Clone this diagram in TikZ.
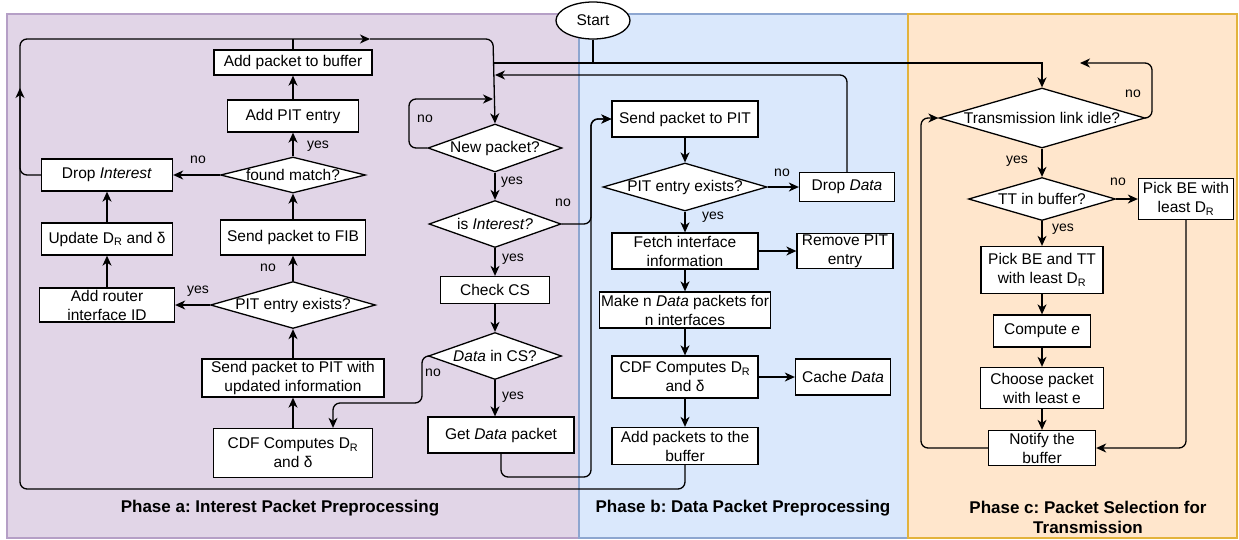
\documentclass[tikz,border=0pt]{standalone}
\usepackage{fontspec}
\setmainfont{Liberation Sans}
\usetikzlibrary{shapes.geometric,arrows.meta}
\frenchspacing

\definecolor{pafill}{HTML}{E1D5E7}
\definecolor{padraw}{HTML}{B59FC6}
\definecolor{pbfill}{HTML}{DAE8FC}
\definecolor{pbdraw}{HTML}{8DA6D0}
\definecolor{pcfill}{HTML}{FFE6CC}
\definecolor{pcdraw}{HTML}{E3B33C}

\begin{document}
\begin{tikzpicture}[x=1pt,y=-1pt,
        font=\fontsize{15.5}{19}\selectfont,
        box/.style={draw,fill=white,line width=1.3pt,align=center,inner sep=0pt},
        dia/.style={draw,fill=white,diamond,line width=1.3pt,inner sep=0pt},
        line/.style={line width=1.3pt,rounded corners=7pt},
        arr/.style={line,-{Stealth[length=10pt,width=9pt,inset=3pt]}},
        lab/.style={font=\fontsize{14}{16}\selectfont},
        phase/.style={font=\fontsize{17}{20}\selectfont\bfseries,align=center}]
    \useasboundingbox (0,0) rectangle (1239,539);

    % panels
    \draw[draw=padraw,fill=pafill,line width=1.2pt] (7,14) rectangle (579,538);
    \draw[draw=pbdraw,fill=pbfill,line width=1.2pt] (579,14) rectangle (908,538);
    \draw[draw=pcdraw,fill=pcfill,line width=1.2pt] (908,14) rectangle (1237,538);

    \node[phase] (phasea) at (280,508) {Phase a: Interest Packet Preprocessing};
    \node[phase] (phaseb) at (743,508) {Phase b: Data Packet Preprocessing};
    \node[phase] (phasec) at (1088,517) {Phase c: Packet Selection for\\Transmission};

    \node[draw,ellipse,fill=white,line width=1.3pt,minimum width=74,minimum height=37,inner sep=0pt] (start) at (593,20.5) {Start};

    % phase a
    \node[box,minimum width=158,minimum height=25] (addbuf) at (293,62.5) {Add packet to buffer};
    \node[box,minimum width=131,minimum height=32] (addpit) at (293,116) {Add PIT entry};
    \node[dia,minimum width=145,minimum height=36] (found) at (293,175) {\makebox[0pt]{found match?}};
    \node[box,minimum width=131,minimum height=32] (dropint) at (107,175) {Drop \textit{Interest}};
    \node[box,minimum width=131,minimum height=32] (update) at (107,239) {Update D\textsubscript{R} and δ};
    \node[box,minimum width=145,minimum height=35] (sendfib) at (293,237.5) {Send packet to FIB};
    \node[box,minimum width=135,minimum height=34] (router) at (107,305) {Add router\\interface ID};
    \node[dia,minimum width=165,minimum height=47] (pita) at (293,305) {\makebox[0pt]{PIT entry exists?}};
    \node[box,minimum width=182,minimum height=38] (sendpita) at (293,378) {Send packet to PIT with\\updated information};
    \node[box,minimum width=159,minimum height=49] (cdfa) at (293,453) {CDF Computes D\textsubscript{R}\\and δ};

    \node[dia,minimum width=134,minimum height=48] (newpkt) at (495,148) {\makebox[0pt]{New packet?}};
    \node[dia,minimum width=132,minimum height=47] (isint) at (495,224) {\makebox[0pt]{is \textit{Interest?}}};
    \node[box,minimum width=109,minimum height=27] (checkcs) at (495,290) {Check CS};
    \node[dia,minimum width=133,minimum height=47] (datacs) at (495,356) {\makebox[0pt]{\textit{Data} in CS?}};
    \node[box,minimum width=146,minimum height=36] (getdata) at (501,435) {Get \textit{Data} packet};

    % phase b
    \node[box,minimum width=146,minimum height=36] (sendpitb) at (685,119) {Send packet to PIT};
    \node[dia,minimum width=164,minimum height=48] (pitb) at (685,187) {\makebox[0pt]{PIT entry exists?}};
    \node[box,minimum width=95,minimum height=29] (dropdata) at (847,187) {Drop \textit{Data}};
    \node[box,minimum width=146,minimum height=36] (fetch) at (685,251) {Fetch interface\\information};
    \node[box,minimum width=96,minimum height=35] (remove) at (845,251) {Remove PIT\\entry};
    \node[box,minimum width=171,minimum height=36] (make) at (685,310) {Make n \textit{Data} packets for\\n interfaces};
    \node[box,minimum width=146,minimum height=42] (cdfb) at (685,377) {CDF Computes D\textsubscript{R}\\and δ};
    \node[box,minimum width=95,minimum height=36] (cache) at (843,377) {Cache \textit{Data}};
    \node[box,minimum width=146,minimum height=37] (addpkts) at (685,446) {Add packets to the\\buffer};

    % phase c
    \node[dia,minimum width=206,minimum height=60] (tli) at (1042,118) {\makebox[0pt]{Transmission link idle?}};
    \node[dia,minimum width=147,minimum height=43] (tt) at (1042,199) {\makebox[0pt]{TT in buffer?}};
    \node[box,minimum width=95,minimum height=41] (pickbe) at (1186,199) {Pick BE with\\least D\textsubscript{R}};
    \node[box,minimum width=122,minimum height=47] (pickbt) at (1042,270) {Pick BE and TT\\with least D\textsubscript{R}};
    \node[box,minimum width=97,minimum height=32] (compute) at (1042,331) {Compute \textit{e}};
    \node[box,minimum width=123,minimum height=41] (choose) at (1042,388) {Choose packet\\with least e};
    \node[box,minimum width=107,minimum height=35] (notify) at (1042,448) {Notify the\\buffer};

    \coordinate (topmid) at (370,39);
    \coordinate (leftmid) at (20,88);
    \coordinate (startj) at (493,63);
    \coordinate (dropin) at (495,75);
    \coordinate (loopin) at (493,99);
    \coordinate (tlij) at (1042,63);
    \coordinate (idlein) at (1080,63);

    % connectors, phase a
    \draw[arr] (cdfa) -- (sendpita);
    \draw[arr] (sendpita) -- (pita);
    \draw[arr] (pita) -- (sendfib);
    \draw[arr] (sendfib) -- (found);
    \draw[arr] (found) -- (addpit);
    \draw[arr] (addpit) -- (addbuf);
    \draw[arr] (found) -- (dropint);
    \draw[arr] (pita) -- (router);
    \draw[arr] (router) -- (update);
    \draw[arr] (update) -- (dropint);
    \draw[line] (addbuf.north) -- (addbuf.north |- topmid);
    \draw[arr] (dropint.west) -| (20,39) -- (topmid);
    \draw[arr] (topmid) -- (493,39) -- (newpkt.north);
    \draw[arr] (addpkts.south) |- (20,489) -- (leftmid);
    \draw[line,sharp corners] (start.south) |- (startj);
    \draw[arr,sharp corners] (start.south) |- (tlij) -- (tli.north);
    \draw[arr] (dropdata.north) |- (dropin);
    \draw[arr] (newpkt.west) -| (409,99) -- (loopin);
    \draw[arr] (newpkt) -- (isint);
    \draw[arr] (isint) -- (checkcs);
    \draw[arr] (checkcs) -- (datacs);
    \draw[arr] (datacs.south) -- (datacs.south |- getdata.north);
    \draw[arr] (datacs.west) -| (422,403) -| ([xshift=40pt]cdfa.north);
    \draw[arr] (isint.east) -| (591,119) -- (sendpitb.west);
    \draw[arr] (getdata.south) |- (591,477) -- (591,119) -- (sendpitb.west);

    % connectors, phase b
    \draw[arr] (sendpitb) -- (pitb);
    \draw[arr] (pitb) -- (dropdata);
    \draw[arr] (pitb) -- (fetch);
    \draw[arr] (fetch) -- (remove);
    \draw[arr] (fetch) -- (make);
    \draw[arr] (make) -- (cdfb);
    \draw[arr] (cdfb) -- (cache);
    \draw[arr] (cdfb) -- (addpkts);

    % connectors, phase c
    \draw[arr] (tli) -- (tt);
    \draw[arr] (tt) -- (pickbe);
    \draw[arr] (tt) -- (pickbt);
    \draw[arr] (pickbt) -- (compute);
    \draw[arr] (compute) -- (choose);
    \draw[arr] (choose) -- (notify);
    \draw[arr] (pickbe.south) |- (notify.east);
    \draw[arr] (notify.west) -| (921,118) -- (tli.west);
    \draw[arr] (tli.east) -| (1152,63) -- (idlein);

    % yes / no
    \node[lab] (l1) at (268,268) {no};
    \node[lab] (l2) at (318,146) {yes};
    \node[lab] (l3) at (198,160) {no};
    \node[lab] (l4) at (198,291) {yes};
    \node[lab] (l5) at (425,119) {no};
    \node[lab] (l6) at (512,182) {yes};
    \node[lab] (l7) at (563,203) {no};
    \node[lab] (l8) at (513,259) {yes};
    \node[lab] (l9) at (433,373) {no};
    \node[lab] (l10) at (513,397) {yes};
    \node[lab] (l11) at (782,173) {no};
    \node[lab] (l12) at (713,217) {yes};
    \node[lab] (l13) at (1133,94) {no};
    \node[lab] (l14) at (1017,161) {yes};
    \node[lab] (l15) at (1118,182) {no};
    \node[lab] (l16) at (1063,229) {yes};
\end{tikzpicture}
\end{document}
